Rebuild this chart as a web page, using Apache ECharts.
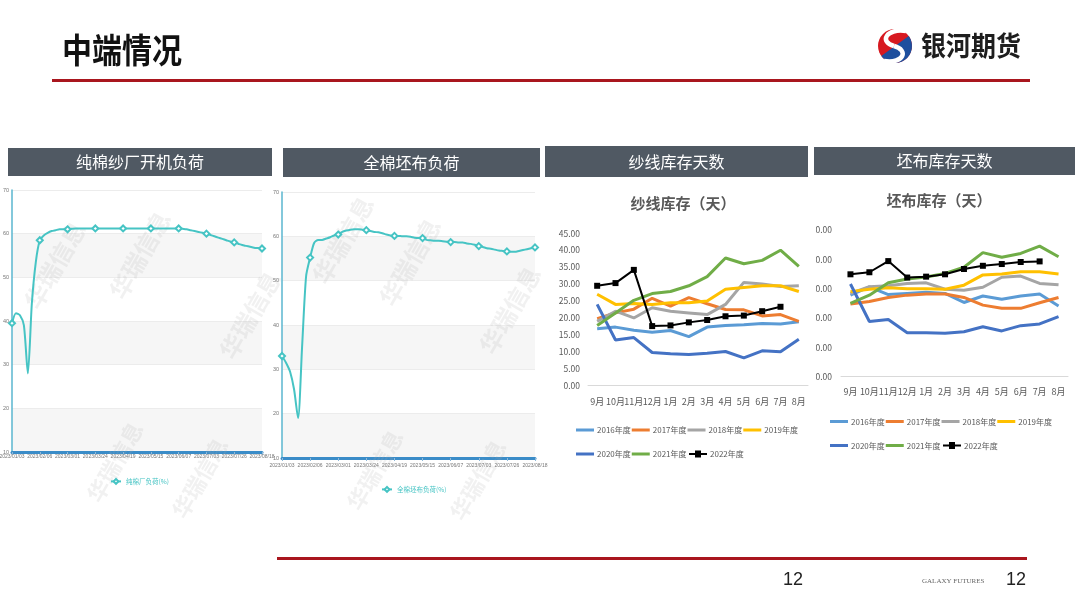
<!DOCTYPE html>
<html><head><meta charset="utf-8">
<script src="https://cdn.jsdelivr.net/npm/echarts@6/dist/echarts.min.js"></script>
<style>
html,body{margin:0;padding:0;background:#fff;width:1080px;height:608px;overflow:hidden;}
#main{position:absolute;left:0;top:0;width:1080px;height:608px;}
#c4{position:absolute;left:816px;top:185px;width:264px;height:290px;}
</style></head><body>
<div id="main"></div><div id="c4"></div>
<script>
// ---------- data ----------
const dates = [
 '2023/01/03','2023/01/06','2023/01/11','2023/01/16','2023/01/19','2023/01/31','2023/02/03',
 '2023/02/06','2023/02/09','2023/02/14','2023/02/17','2023/02/21','2023/02/24','2023/02/27',
 '2023/03/01','2023/03/06','2023/03/09','2023/03/14','2023/03/17','2023/03/20','2023/03/22',
 '2023/03/24','2023/03/29','2023/04/03','2023/04/07','2023/04/11','2023/04/14','2023/04/17',
 '2023/04/19','2023/04/24','2023/04/27','2023/05/04','2023/05/08','2023/05/10','2023/05/12',
 '2023/05/15','2023/05/18','2023/05/23','2023/05/26','2023/05/30','2023/06/02','2023/06/05',
 '2023/06/07','2023/06/12','2023/06/15','2023/06/20','2023/06/26','2023/06/28','2023/06/30',
 '2023/07/03','2023/07/06','2023/07/11','2023/07/14','2023/07/18','2023/07/20','2023/07/24',
 '2023/07/26','2023/07/31','2023/08/03','2023/08/07','2023/08/10','2023/08/14','2023/08/16',
 '2023/08/18'];
const spinLoad = [
 39.5,41.8,41.3,39,28,44,53.5,
 58.5,59.6,60.2,60.6,60.8,61,61,
 61,61.1,61.2,61.2,61.2,61.2,61.2,
 61.2,61.2,61.2,61.2,61.2,61.2,61.2,
 61.2,61.2,61.2,61.2,61.2,61.2,61.2,
 61.2,61.2,61.2,61.2,61.2,61.2,61.2,
 61.2,61.1,61.0,60.8,60.6,60.4,60.2,
 60.0,59.7,59.4,59.1,58.8,58.5,58.2,
 58.0,57.7,57.4,57.2,57.0,56.8,56.7,
 56.6];
const greyLoad = [
 33,31.5,29.5,25.5,19,35,51,
 55.2,58.5,59.2,59.2,59.5,59.8,60.2,
 60.4,61,61.3,61.5,61.6,61.6,61.5,
 61.4,61.2,61,60.9,60.7,60.4,60.2,
 60.1,60.1,60.0,60.0,59.9,59.7,59.6,
 59.6,59.2,59.1,59.0,59.0,58.9,58.8,
 58.7,58.7,58.6,58.6,58.4,58.3,58.1,
 57.8,57.6,57.3,57.2,57.0,56.8,56.7,
 56.6,56.5,56.5,56.7,56.9,57.1,57.3,
 57.5];
const months = ['9月','10月','11月','12月','1月','2月','3月','4月','5月','6月','7月','8月'];
const seasons = ['2016年度','2017年度','2018年度','2019年度','2020年度','2021年度','2022年度'];
const yarn2016 = [16.8,17.3,16.4,15.8,16.3,14.5,17.3,17.8,18.0,18.4,18.2,18.9];
const yarn2017 = [19.8,21.5,22.6,25.8,23.5,26.0,24.2,22.5,22.4,20.6,21.0,19.0];
const yarn2018 = [19.0,22.0,20.0,23.0,22.0,21.5,21.0,24.0,30.5,30.0,29.3,29.5];
const yarn2019 = [27.0,24.0,24.3,24.0,24.5,24.5,25.0,28.5,29.0,29.5,29.5,27.8];
const yarn2020 = [24.0,13.5,14.2,9.8,9.4,9.2,9.6,10.1,8.2,10.3,10.0,13.7];
const yarn2021 = [17.8,21.5,25.2,27.2,27.8,29.5,32.2,37.7,36.0,37.0,40.0,35.2];
const yarn2022 = [29.5,30.3,34.2,17.6,17.8,18.7,19.4,20.5,20.7,22.0,23.3];
const cloth2016 = [27.8,30.6,28.0,28.4,28.8,28.4,25.3,27.5,26.4,27.5,28.2,24.1];
const cloth2017 = [24.8,25.6,27.0,27.8,28.2,28.2,27.0,24.4,23.3,23.3,25.2,27.0];
const cloth2018 = [28.4,30.7,31.0,31.8,32.0,29.8,29.5,30.5,33.9,34.3,31.8,31.3];
const cloth2019 = [29.0,29.8,30.3,30.0,30.0,29.8,31.2,34.7,35.0,35.8,35.8,35.0];
const cloth2020 = [31.6,18.8,19.5,15.0,15.0,14.8,15.3,17.0,15.6,17.4,18.0,20.5];
const cloth2021 = [25.0,27.8,32.0,33.3,34.0,35.2,37.3,42.3,40.7,42.0,44.5,40.9];
const cloth2022 = [34.9,35.6,39.4,33.8,34.1,34.9,36.7,37.8,38.4,39.1,39.3];
const yarnData = [yarn2016,yarn2017,yarn2018,yarn2019,yarn2020,yarn2021,yarn2022];
const clothData = [cloth2016,cloth2017,cloth2018,cloth2019,cloth2020,cloth2021,cloth2022];
const seasonColors = ['#5B9BD5','#ED7D31','#A5A5A5','#FFC000','#4472C4','#70AD47','#000000'];

// ---------- helpers ----------
const CJK = "'Noto Sans CJK SC', sans-serif";
const NARROW = "'Liberation Sans Narrow','Liberation Sans',sans-serif";
const TEAL = '#46c4c4';
const MARKER_LINE = 'path://M0,3 L6,3 L6,0.5 L12,0.5 L12,3 L18,3 L18,5 L12,5 L12,7.5 L6,7.5 L6,5 L0,5 Z';

function seasonSeries(dataList, xi, yi) {
  return dataList.map((d, k) => {
    const last = k === 6;
    return {
      type: 'line', name: seasons[k], data: d, xAxisIndex: xi, yAxisIndex: yi,
      symbol: last ? 'rect' : 'none', symbolSize: last ? 6 : 0,
      lineStyle: { color: seasonColors[k], width: last ? 2 : 3 },
      itemStyle: { color: seasonColors[k] },
      z: 2 + k, animation: false
    };
  });
}
function seasonLegends(left, top1, top2) {
  const text = { fontSize: 8, color: '#595959', fontFamily: CJK, padding: [0, 0, 0, -2] };
  const common = { itemWidth: 18, itemHeight: 3, icon: 'rect', itemGap: 1, padding: 0, textStyle: text };
  return [
    Object.assign({ left: left, top: top1, data: seasons.slice(0, 4) }, common),
    Object.assign({ left: left, top: top2, data: seasons.slice(4, 6) }, common),
    { left: left + 113, top: top2, data: seasons.slice(6), itemWidth: 18, itemHeight: 7,
      icon: MARKER_LINE, padding: 0, textStyle: text }
  ];
}
function loadAxes(grid, labelMargin) {
  return {
    x: { gridIndex: grid, type: 'category', data: dates, boundaryGap: false,
      axisLine: { lineStyle: { color: '#3a8cc8', width: 3 } },
      axisTick: { interval: 6, length: 3, lineStyle: { color: '#8fb8d8' } },
      axisLabel: { interval: 6, showMinLabel: true, showMaxLabel: true, hideOverlap: false,
        fontSize: 5, color: '#777', margin: labelMargin, fontFamily: NARROW } },
    y: { gridIndex: grid, type: 'value', min: 10, max: 70, interval: 10,
      axisLine: { show: true, lineStyle: { color: '#5ab6cf', width: 1.5 } },
      axisTick: { show: false },
      splitLine: { lineStyle: { color: '#ececec' } },
      splitArea: { show: true, areaStyle: { color: ['#f6f6f6', '#ffffff'] } },
      axisLabel: { fontSize: 5.5, color: '#777', margin: 3, fontFamily: NARROW } }
  };
}
function watermark(x, y, size) {
  return { type: 'text', x: x, y: y, rotation: Math.PI / 3, z: 1,
    style: { text: '华瑞信息', fontSize: size, fontWeight: 'bold', fontFamily: CJK,
      fill: 'rgba(170,170,170,0.17)', textAlign: 'center', textVerticalAlign: 'middle' } };
}
function bar(x, y, w, h, text) {
  return [
    { type: 'rect', shape: { x: x, y: y, width: w, height: h }, style: { fill: '#505963' } },
    { type: 'text', x: x + w / 2, y: y + h / 2, style: { text: text, fontSize: 16, fill: '#fff',
      fontFamily: CJK, textAlign: 'center', textVerticalAlign: 'middle' } }
  ];
}

const a1 = loadAxes(0, 2), a2 = loadAxes(1, 5);

const mainOption = {
  animation: false,
  textStyle: { fontFamily: CJK },
  grid: [
    { left: 12, top: 190, width: 250, height: 262, outerBoundsMode: 'none', containLabel: false },
    { left: 282, top: 192, width: 253, height: 266, outerBoundsMode: 'none', containLabel: false },
    { left: 588, top: 233.3, width: 220, height: 152.4, outerBoundsMode: 'none', containLabel: false }
  ],
  xAxis: [a1.x, a2.x,
    { gridIndex: 2, type: 'category', data: months,
      axisLine: { lineStyle: { color: '#d9d9d9', width: 1 } }, axisTick: { show: false },
      axisLabel: { interval: 0, fontSize: 9, color: '#595959', margin: 11 } }],
  yAxis: [a1.y, a2.y,
    { gridIndex: 2, type: 'value', min: 0, max: 45, interval: 5,
      axisLine: { show: false }, axisTick: { show: false }, splitLine: { show: false },
      axisLabel: { fontSize: 8.5, color: '#595959', margin: 8, formatter: v => v.toFixed(2) } }],
  legend: [
    { left: 110, top: 478, itemWidth: 10, itemHeight: 6, padding: 0, data: ['纯棉厂负荷(%)'],
      textStyle: { fontSize: 6.5, color: TEAL, fontFamily: CJK } },
    { left: 381, top: 486, itemWidth: 10, itemHeight: 6, padding: 0, data: ['全棉坯布负荷(%)'],
      textStyle: { fontSize: 6.5, color: TEAL, fontFamily: CJK } }
  ].concat(seasonLegends(576, 426, 450)),
  series: [
    { type: 'line', name: '纯棉厂负荷(%)', data: spinLoad, xAxisIndex: 0, yAxisIndex: 0, smooth: 0.25,
      symbol: 'emptyDiamond', showSymbol: true, showAllSymbol: true,
      symbolSize: (v, p) => (p.dataIndex % 7 === 0 ? 6 : 0),
      lineStyle: { color: TEAL, width: 2 }, itemStyle: { color: TEAL, borderWidth: 1 }, z: 3 },
    { type: 'line', name: '全棉坯布负荷(%)', data: greyLoad, xAxisIndex: 1, yAxisIndex: 1, smooth: 0.25,
      symbol: 'emptyDiamond', showSymbol: true, showAllSymbol: true,
      symbolSize: (v, p) => (p.dataIndex % 7 === 0 ? 6 : 0),
      lineStyle: { color: TEAL, width: 2 }, itemStyle: { color: TEAL, borderWidth: 1 }, z: 3 }
  ].concat(seasonSeries(yarnData, 2, 2)),
  graphic: [
    // slide title
    { type: 'text', x: 62, y: 50, scaleY: 1.12, style: { text: '中端情况', fontSize: 30, fontWeight: 'bold',
      fill: '#111', fontFamily: CJK, textAlign: 'left', textVerticalAlign: 'middle' } },
    { type: 'rect', shape: { x: 52, y: 79, width: 978, height: 3 }, style: { fill: '#a9161e' } },
    // logo
    { type: 'circle', shape: { cx: 895, cy: 46, r: 17 }, style: { fill: '#d71920' } },
    { type: 'sector', shape: { cx: 895, cy: 46, r: 17, r0: 0, startAngle: -Math.PI / 5, endAngle: Math.PI * 0.8 },
      style: { fill: '#1d4f9e' } },
    { type: 'bezierCurve', shape: { x1: 906, y1: 31, cpx1: 886, cpy1: 28, cpx2: 879, cpy2: 42, x2: 894, y2: 46 },
      style: { stroke: '#fff', lineWidth: 4.5, fill: null } },
    { type: 'bezierCurve', shape: { x1: 894, y1: 46, cpx1: 909, cpy1: 50, cpx2: 904, cpy2: 64, x2: 884, y2: 61 },
      style: { stroke: '#fff', lineWidth: 4.5, fill: null } },
    { type: 'text', x: 921, y: 46, scaleY: 1.1, style: { text: '银河期货', fontSize: 25, fontWeight: 'bold',
      fill: '#1e1e1e', fontFamily: CJK, textAlign: 'left', textVerticalAlign: 'middle' } },
    // panel headers
    ...bar(8, 148, 264, 28, '纯棉纱厂开机负荷'),
    ...bar(283, 148, 257, 29, '全棉坯布负荷'),
    ...bar(545, 146, 263, 31, '纱线库存天数'),
    ...bar(814, 147, 261, 28, '坯布库存天数'),
    // chart 3 title
    { type: 'text', x: 683, y: 203, style: { text: '纱线库存（天）', fontSize: 15, fontWeight: 'bold',
      fill: '#595959', fontFamily: CJK, textAlign: 'center', textVerticalAlign: 'middle' } },
    // watermarks
    watermark(55, 265, 24), watermark(140, 255, 24), watermark(250, 315, 24),
    watermark(115, 462, 22), watermark(200, 478, 22),
    watermark(343, 240, 24), watermark(410, 262, 24), watermark(510, 310, 24),
    watermark(375, 470, 22), watermark(478, 480, 22),
    // footer
    { type: 'rect', shape: { x: 277, y: 557, width: 750, height: 3 }, style: { fill: '#a9161e' } },
    { type: 'text', x: 793, y: 580, style: { text: '12', fontSize: 18, fill: '#222', fontFamily: NARROW,
      textAlign: 'center', textVerticalAlign: 'middle' } },
    { type: 'text', x: 922, y: 581, style: { text: 'GALAXY FUTURES', fontSize: 7, fill: '#666',
      fontFamily: "'Liberation Serif', serif", textAlign: 'left', textVerticalAlign: 'middle' } },
    { type: 'text', x: 1016, y: 580, style: { text: '12', fontSize: 18, fill: '#222', fontFamily: NARROW,
      textAlign: 'center', textVerticalAlign: 'middle' } }
  ]
};

const c4Option = {
  animation: false,
  textStyle: { fontFamily: CJK },
  grid: { left: 25, top: 45, width: 227, height: 146.7, outerBoundsMode: 'none', containLabel: false },
  xAxis: { type: 'category', data: months,
    axisLine: { lineStyle: { color: '#d9d9d9', width: 1 } }, axisTick: { show: false },
    axisLabel: { interval: 0, fontSize: 9, color: '#595959', margin: 10 } },
  yAxis: { type: 'value', min: 0, max: 50, interval: 10,
    axisLine: { show: false }, axisTick: { show: false }, splitLine: { show: false },
    axisLabel: { fontSize: 8.5, color: '#595959', margin: 9, formatter: v => v.toFixed(2) } },
  legend: seasonLegends(14, 232.5, 256.5),
  series: seasonSeries(clothData, 0, 0),
  graphic: [
    { type: 'text', x: 123, y: 15.7, style: { text: '坯布库存（天）', fontSize: 15, fontWeight: 'bold',
      fill: '#595959', fontFamily: CJK, textAlign: 'center', textVerticalAlign: 'middle' } }
  ]
};

echarts.init(document.getElementById('main'), null, { renderer: 'canvas' }).setOption(mainOption);
echarts.init(document.getElementById('c4'), null, { renderer: 'canvas' }).setOption(c4Option);
</script></body></html>
